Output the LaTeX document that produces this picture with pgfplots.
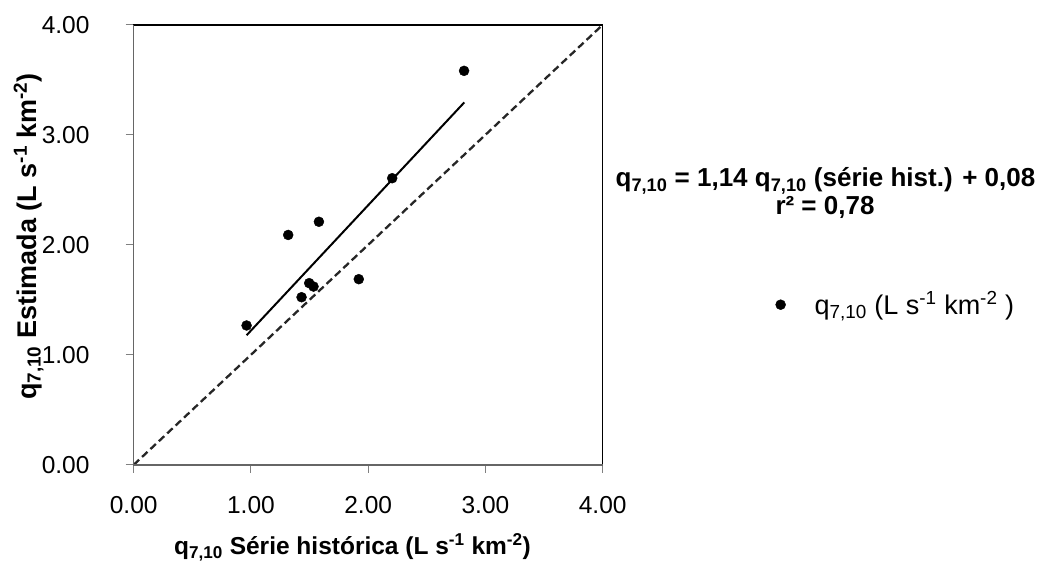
\documentclass[border=0pt]{standalone}
\usepackage{fontspec}
\setmainfont{Liberation Sans}
\usepackage{pgfplots}
\pgfplotsset{compat=1.18}
\begin{document}
\fontsize{24}{28}\selectfont
\begin{tikzpicture}[x=1pt,y=1pt]
\useasboundingbox (0,0) rectangle (1047,572);
\begin{axis}[
  at={(114,97.4)}, anchor=south west,
  width=469pt, height=440pt, scale only axis,
  xmin=0, xmax=4, ymin=0, ymax=4,
  xtick={0,1,2,3,4}, ytick={0,1,2,3,4},
  xtick pos=bottom, ytick pos=left,
  tick align=outside, major tick length=8pt,
  tick style={draw=gray, line width=1pt},
  axis line style={black, line width=1.3pt},
  xticklabel style={yshift=-15pt},
  yticklabel style={xshift=-28pt},
  /pgf/number format/.cd, fixed, fixed zerofill, precision=2, assume math mode=true,
  /pgfplots/.cd,
  tick label style={font=\fontsize{24.5}{28}\selectfont},
  clip=false,
  legend style={at={(1.362,0.364)}, anchor=west, draw=none, fill=none,
    font=\fontsize{27}{30}\selectfont},
  legend image code/.code={\draw[mark repeat=2,mark phase=2,#1,only marks] plot coordinates {(0pt,0pt) (12pt,0pt) (24pt,0pt)}; \path[draw=none,fill=none] (7.2pt,0pt) -- (44pt,0pt);},
]
\addplot[only marks, mark=*, mark size=5pt, black] coordinates {
  (0.963,1.267) (1.318,2.090) (1.580,2.210) (1.432,1.524) (1.497,1.652)
  (1.534,1.621) (1.920,1.688) (2.205,2.606) (2.818,3.582)
};
\addlegendentry{q\textsubscript{7,10} (L s\textsuperscript{-1} km\textsuperscript{-2} )}
\addplot[black, line width=2pt, forget plot] coordinates {(0.963,1.178) (2.820,3.295)};
\addplot[black!85, line width=2.3pt, dash pattern=on 7.5pt off 4pt, forget plot] coordinates {(0,0) (4,4)};
\draw[gray!80!black, line width=1.5pt] (rel axis cs:0,1) -- (rel axis cs:0,0) -- (rel axis cs:1,0);
\end{axis}
\node[anchor=base, font=\bfseries\fontsize{24.5}{28}\selectfont] at (352.5,17)
  {q\textsubscript{7,10} Série histórica (L s\textsuperscript{-1} km\textsuperscript{-2})};
\node[rotate=90, anchor=base, font=\bfseries\fontsize{27}{30}\selectfont] at (36,335.5)
  {q\textsubscript{7,10} Estimada (L s\textsuperscript{-1} km\textsuperscript{-2})};
\node[anchor=base, font=\bfseries\fontsize{26}{28}\selectfont] at (825.5,385)
  {q\textsubscript{7,10} = 1,14 q\textsubscript{7,10} (série hist.) + 0,08};
\node[anchor=base, font=\bfseries\fontsize{26}{28}\selectfont] at (825,357)
  {r² = 0,78};
\end{tikzpicture}
\end{document}
